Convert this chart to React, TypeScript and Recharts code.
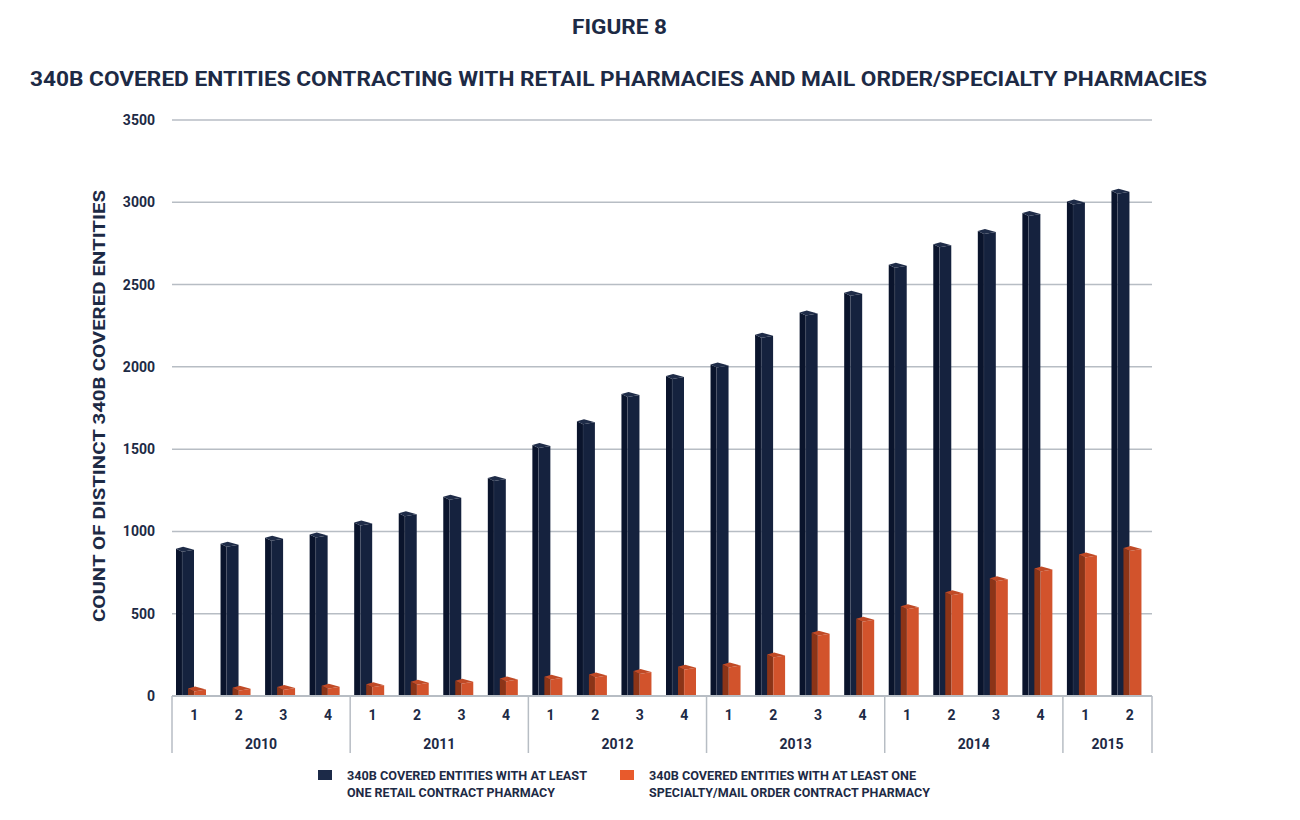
import React from 'react';
import { BarChart, Bar, XAxis, YAxis, CartesianGrid } from 'recharts';

const quarterLabels = ['1', '2', '3', '4', '1', '2', '3', '4', '1', '2', '3', '4', '1', '2', '3', '4', '1', '2', '3', '4', '1', '2'];
const yearLabels = ['2010', '2010', '2010', '2010', '2011', '2011', '2011', '2011', '2012', '2012', '2012', '2012', '2013', '2013', '2013', '2013', '2014', '2014', '2014', '2014', '2015', '2015'];
const retailEntities = [895, 925, 962, 982, 1055, 1110, 1210, 1325, 1525, 1670, 1835, 1945, 2015, 2195, 2330, 2450, 2620, 2745, 2825, 2935, 3005, 3070];
const specialtyEntities = [45, 50, 55, 62, 72, 87, 92, 107, 117, 130, 152, 177, 192, 252, 385, 470, 545, 630, 715, 775, 860, 900];
const yTicks = [0, 500, 1000, 1500, 2000, 2500, 3000, 3500];

const data = quarterLabels.map((q, i) => ({
  q,
  year: yearLabels[i],
  retail: retailEntities[i],
  specialty: specialtyEntities[i],
}));

const W = 1300;
const H = 820;
const PLOT_LEFT = 172;
const PLOT_RIGHT = 1152;
const BAND = (PLOT_RIGHT - PLOT_LEFT) / data.length;
const TEXT = '#1d2a45';
const GRID = '#b7bdc4';
const FONT = 'Roboto, "Noto Sans", sans-serif';

const make3D = (front: string, side: string, top: string) => (props: any) => {
  const { x, y, width, height } = props;
  if (height == null || width == null) return null;
  const bx = x - 3;
  const base = y + height;
  const s = width * 0.34;
  const w = width;
  const t = y - 2;
  return (
    <g>
      <polygon points={`${bx},${t + 2} ${bx + s},${t + 5} ${bx + s},${base} ${bx},${base}`} fill={side} />
      <polygon points={`${bx + s},${t + 5} ${bx + w},${t + 3} ${bx + w},${base} ${bx + s},${base}`} fill={front} />
      <polygon points={`${bx},${t + 2} ${bx + s + 1},${t} ${bx + w},${t + 3} ${bx + s},${t + 5}`} fill={top} />
      <line x1={bx + s} y1={t + 5} x2={bx + s} y2={base} stroke="rgba(255,255,255,0.12)" strokeWidth={0.6} />
    </g>
  );
};

const RetailShape = make3D('#15223e', '#0a142c', '#1f2c48');
const SpecialtyShape = make3D('#d2532c', '#8c3417', '#c04a26');

const XTick = (props: any) => {
  const { x, y, payload } = props;
  const i = payload.index;
  const row = data[i];
  if (!row) return null;
  const els: React.ReactNode[] = [];
  els.push(
    <text key="q" x={x} y={y + 24} textAnchor="middle" fill={TEXT} fontSize={14} fontWeight={700} fontFamily={FONT}>
      {row.q}
    </text>
  );
  const isStart = i === 0 || data[i - 1].year !== row.year;
  if (isStart) {
    let n = 0;
    while (i + n < data.length && data[i + n].year === row.year) n++;
    const left = x - BAND / 2;
    els.push(<line key="sep" x1={left} x2={left} y1={y} y2={y + 57} stroke={GRID} strokeWidth={1.5} />);
    els.push(
      <text key="yr" x={left + (n * BAND) / 2} y={y + 53} textAnchor="middle" fill={TEXT} fontSize={14} fontWeight={700} fontFamily={FONT}>
        {row.year}
      </text>
    );
    if (i + n >= data.length) {
      const right = left + n * BAND;
      els.push(<line key="end" x1={right} x2={right} y1={y} y2={y + 57} stroke={GRID} strokeWidth={1.5} />);
    }
  }
  return <g>{els}</g>;
};

export default function App() {
  return (
    <div style={{ position: 'absolute', left: 0, top: 0, width: W, height: H, background: '#fff' }}>
      <BarChart
        width={W}
        height={H}
        data={data}
        margin={{ top: 120, right: W - PLOT_RIGHT, left: 0, bottom: 0 }}
        barSize={18}
        barGap={-6}
      >
        <CartesianGrid vertical={false} stroke={GRID} strokeWidth={1.5} />
        <XAxis
          dataKey="q"
          interval={0}
          height={124}
          tickLine={false}
          tickSize={0}
          tickMargin={0}
          axisLine={{ stroke: GRID, strokeWidth: 2 }}
          tick={<XTick />}
        />
        <YAxis
          width={PLOT_LEFT}
          domain={[0, 3500]}
          ticks={yTicks}
          tickLine={false}
          axisLine={false}
          tickSize={0}
          tickMargin={17}
          tick={{ fill: TEXT, fontSize: 14, fontWeight: 700, fontFamily: FONT }}
        />
        <Bar dataKey="retail" fill="#15223e" shape={RetailShape} isAnimationActive={false} />
        <Bar dataKey="specialty" fill="#d2532c" shape={SpecialtyShape} isAnimationActive={false} />
      </BarChart>
      <svg
        width={W}
        height={H}
        style={{ position: 'absolute', left: 0, top: 0, pointerEvents: 'none' }}
        fontFamily={FONT}
        fontWeight={700}
        fill={TEXT}
      >
        <text x={619.5} y={34} textAnchor="middle" fontSize={21} textLength={95} lengthAdjust="spacingAndGlyphs">
          FIGURE 8
        </text>
        <text x={30} y={86} fontSize={21} textLength={1177} lengthAdjust="spacingAndGlyphs">
          340B COVERED ENTITIES CONTRACTING WITH RETAIL PHARMACIES AND MAIL ORDER/SPECIALTY PHARMACIES
        </text>
        <text
          transform="translate(105,406) rotate(-90)"
          textAnchor="middle"
          fontSize={16}
          textLength={432}
          lengthAdjust="spacingAndGlyphs"
        >
          COUNT OF DISTINCT 340B COVERED ENTITIES
        </text>
        <rect x={318} y={770} width={14} height={10} fill="#1c2a48" />
        <text x={347} y={780} fontSize={12} textLength={240} lengthAdjust="spacingAndGlyphs">
          340B COVERED ENTITIES WITH AT LEAST
        </text>
        <text x={347} y={797} fontSize={12} textLength={208} lengthAdjust="spacingAndGlyphs">
          ONE RETAIL CONTRACT PHARMACY
        </text>
        <rect x={620} y={770} width={14} height={10} fill="#e85a2c" />
        <text x={649} y={780} fontSize={12} textLength={267} lengthAdjust="spacingAndGlyphs">
          340B COVERED ENTITIES WITH AT LEAST ONE
        </text>
        <text x={649} y={797} fontSize={12} textLength={281} lengthAdjust="spacingAndGlyphs">
          SPECIALTY/MAIL ORDER CONTRACT PHARMACY
        </text>
      </svg>
    </div>
  );
}
